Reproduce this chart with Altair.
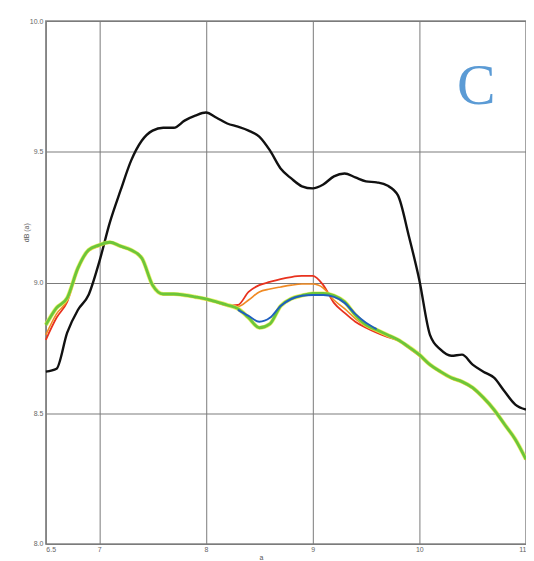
import altair as alt
import pandas as pd

x_vals = [6.5, 6.6, 6.7, 6.8, 6.9, 7.0, 7.1, 7.2, 7.3, 7.4,
          7.5, 7.6, 7.7, 7.8, 7.9, 8.0, 8.1, 8.2, 8.3, 8.4,
          8.5, 8.6, 8.7, 8.8, 8.9, 9.0, 9.1, 9.2, 9.3, 9.4,
          9.5, 9.6, 9.7, 9.8, 9.9, 10.0, 10.1, 10.2, 10.3, 10.4,
          10.5, 10.6, 10.7, 10.8, 10.9, 11.0]

black = [8.659, 8.670, 8.808, 8.895, 8.952, 9.078, 9.230, 9.352, 9.467, 9.543,
         9.581, 9.592, 9.592, 9.619, 9.638, 9.650, 9.630, 9.608, 9.596, 9.581,
         9.558, 9.505, 9.436, 9.398, 9.368, 9.360, 9.375, 9.406, 9.417, 9.402,
         9.387, 9.383, 9.371, 9.333, 9.181, 9.010, 8.800, 8.743, 8.720, 8.724,
         8.686, 8.659, 8.636, 8.583, 8.533, 8.514]

green = [8.838, 8.903, 8.941, 9.055, 9.124, 9.143, 9.154, 9.139, 9.124, 9.093,
         8.990, 8.956, 8.956, 8.952, 8.945, 8.937, 8.926, 8.914, 8.900, 8.865,
         8.827, 8.842, 8.910, 8.938, 8.950, 8.958, 8.958, 8.950, 8.926, 8.876,
         8.838, 8.819, 8.800, 8.781, 8.754, 8.724, 8.686, 8.659, 8.636, 8.621,
         8.598, 8.560, 8.514, 8.457, 8.400, 8.324]

red = [8.781, 8.865, 8.926, 9.050, 9.120, 9.140, 9.152, 9.137, 9.122, 9.090,
       8.988, 8.954, 8.954, 8.950, 8.943, 8.935, 8.924, 8.912, 8.914, 8.964,
       8.990, 9.002, 9.013, 9.021, 9.025, 9.025, 8.990, 8.922, 8.884, 8.850,
       8.827, 8.808, 8.792, 8.778, 8.750, 8.720, 8.683, 8.656, 8.633, 8.618,
       8.595, 8.557, 8.511, 8.455, 8.398, 8.322]

orange = [8.800, 8.880, 8.932, 9.052, 9.122, 9.141, 9.153, 9.138, 9.123, 9.091,
          8.989, 8.955, 8.955, 8.951, 8.944, 8.936, 8.925, 8.913, 8.908, 8.933,
          8.964, 8.975, 8.983, 8.990, 8.994, 8.994, 8.979, 8.933, 8.900, 8.862,
          8.832, 8.813, 8.796, 8.779, 8.752, 8.722, 8.684, 8.657, 8.634, 8.619,
          8.596, 8.558, 8.512, 8.456, 8.399, 8.323]

blue_x = [8.3, 8.4, 8.5, 8.6, 8.7, 8.8, 8.9, 9.0, 9.1, 9.2, 9.3, 9.4, 9.5, 9.6]
blue = [8.895, 8.872, 8.850, 8.865, 8.910, 8.937, 8.949, 8.952, 8.952, 8.945,
        8.922, 8.880, 8.846, 8.822]

W, H = 482, 525
x_ticks = [6.5, 7, 8, 9, 10, 11]
y_ticks = [8.0, 8.5, 9.0, 9.5, 10.0]

xscale = alt.Scale(domain=[6.5, 11.0], nice=False, zero=False)
yscale = alt.Scale(domain=[8.0, 10.0], nice=False, zero=False)

xaxis = alt.Axis(values=x_ticks, format="~g", title="a", grid=True, gridColor="#7a7a7a",
                 gridWidth=1, gridOpacity=1, ticks=False, domain=False,
                 labelFontSize=7, labelColor="#666666", labelPadding=2,
                 titleFontSize=7, titleColor="#555555", titleFontWeight="normal",
                 titleX=216, titleY=10)
yaxis = alt.Axis(values=y_ticks, format=".1f", title="dB (a)", grid=True, gridColor="#7a7a7a",
                 gridWidth=1, gridOpacity=1, ticks=False, domain=False,
                 labelFontSize=7, labelColor="#666666", labelPadding=3,
                 titleFontSize=7, titleColor="#555555", titleFontWeight="normal",
                 titleX=-16, titleY=212)


def line(xs, ys, color, width, opacity=1.0):
    df = pd.DataFrame({"x": xs, "y": ys})
    return alt.Chart(df).mark_line(color=color, strokeWidth=width, opacity=opacity,
                                   interpolate="monotone").encode(
        x=alt.X("x:Q", scale=xscale, axis=xaxis),
        y=alt.Y("y:Q", scale=yscale, axis=yaxis),
    )


layers = [
    line(x_vals, black, "#111111", 2.4),
    line(x_vals, red, "#e8321e", 1.8),
    line(x_vals, orange, "#f08a24", 1.6),
    line(x_vals, green, "#e6ee4a", 4.2, 0.8),
    line(x_vals, green, "#6cc63a", 2.8),
    line(blue_x, blue, "#1f5fbf", 2.0),
]

label = alt.Chart(pd.DataFrame({"t": ["C"]})).mark_text(
    font="Liberation Serif", fontSize=58, color="#5b9bd5", align="center", baseline="middle"
).encode(text="t:N", x=alt.value(432), y=alt.value(66))
layers.append(label)

chart = alt.layer(*layers).properties(
    width=W, height=H,
    padding={"left": 38, "top": 12, "right": 0, "bottom": 16},
    autosize=alt.AutoSizeParams(type="none"),
    background="white",
).configure_view(stroke="#888888", strokeWidth=1.5)

chart.save("out.html", embed_options={"renderer": "svg", "actions": False})
